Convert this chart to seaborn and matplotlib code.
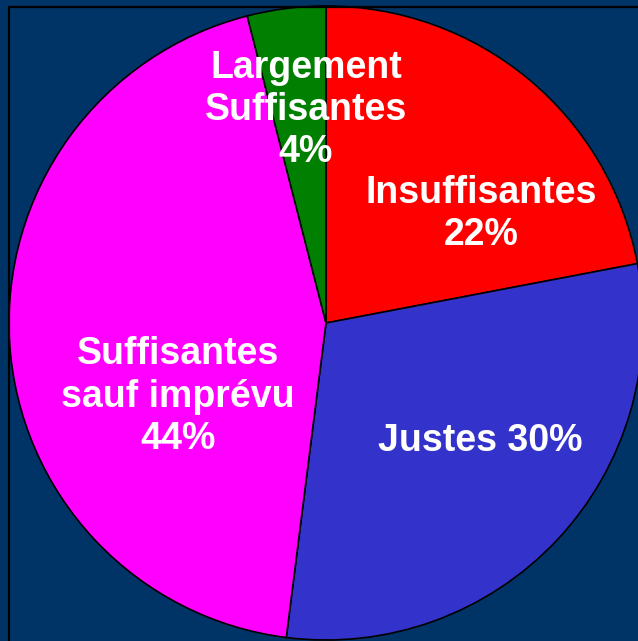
import matplotlib
matplotlib.use("Agg")
import matplotlib.pyplot as plt
from matplotlib.patches import Rectangle
import seaborn as sns

# data
categories = ["Insuffisantes", "Justes", "Suffisantes\nsauf imprévu", "Largement\nSuffisantes"]
shares = [22, 30, 44, 4]
colors = ["#ff0000", "#3333cc", "#ff00ff", "#007f00"]
label_text = ["Insuffisantes\n22%", "Justes 30%", "Suffisantes\nsauf imprévu\n44%", "Largement\nSuffisantes\n4%"]
# label anchors (data coords of unit pie)
label_pos = [(0.489, 0.344), (0.486, -0.372), (-0.467, -0.232), (-0.063, 0.672)]

sns.set_style("white")
plt.rcParams["font.family"] = ["Liberation Sans", "DejaVu Sans"]

bg = "#003366"
fig = plt.figure(figsize=(6.38, 6.41), dpi=100, facecolor=bg)

# frame line running off the right/bottom edges
fig.patches.append(Rectangle((8.5 / 638, -0.1), 1.2, 1 - 6.5 / 641 + 0.1,
                             transform=fig.transFigure, fill=False,
                             edgecolor="black", linewidth=1.6))

ax = fig.add_axes([9 / 638, 1 / 641, 634 / 638, 634 / 641])
ax.set_facecolor("none")
wedges, _ = ax.pie(shares, colors=colors, startangle=90, counterclock=False,
                   radius=1, wedgeprops=dict(edgecolor="black", linewidth=1.2))
for w in wedges:
    w.set_clip_on(False)
ax.set_xlim(-1, 1)
ax.set_ylim(-1, 1)
ax.set_aspect("auto")
ax.axis("off")

for txt, (x, y) in zip(label_text, label_pos):
    ax.text(x, y, txt, ha="center", va="center", color="white",
            fontsize=27, fontweight="bold", linespacing=1.22)

fig.savefig("out.png", dpi=100, facecolor=bg)
